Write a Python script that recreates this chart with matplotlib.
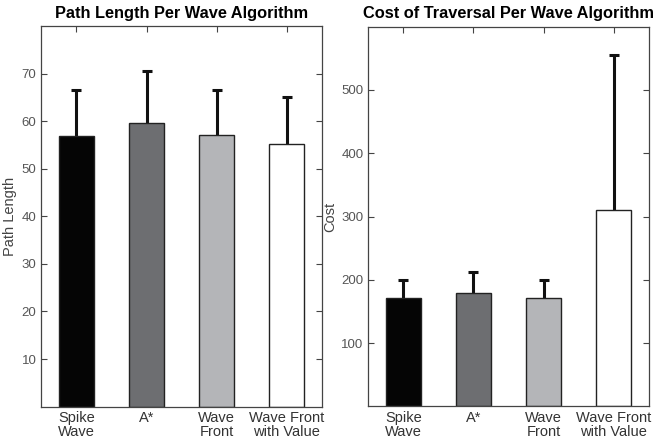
import numpy as np
import matplotlib
matplotlib.use("Agg")
import matplotlib.pyplot as plt

plt.rcParams['font.family'] = ['Liberation Sans', 'DejaVu Sans']

# data
labels = ['Spike\nWave', 'A*', 'Wave\nFront', 'Wave Front\nwith Value']
colors = ['#050505', '#6d6e71', '#b4b5b8', '#ffffff']
path_mean = [56.9, 59.6, 57.0, 55.2]
path_err = [9.6, 11.0, 9.5, 9.9]
cost_mean = [171, 179, 171, 311]
cost_err = [28, 33, 28, 245]

fig = plt.figure(figsize=(6.53, 4.41), dpi=100)
ax1 = fig.add_axes([0.0633, 0.078, 0.4298, 0.863])
ax2 = fig.add_axes([0.564, 0.0785, 0.4294, 0.861])

x = np.arange(1, 5)


def draw(ax, means, errs, title, ylabel, ylim, yticks):
    ax.bar(x, means, width=0.5, color=colors, edgecolor='#222222', linewidth=1.0, zorder=2)
    eb = ax.errorbar(x, means, yerr=[np.zeros(len(errs)), errs], fmt='none', ecolor='#111111',
                     elinewidth=2.2, capsize=3.5, capthick=2.2, zorder=1)
    # only the upper half of the error bar is shown
    eb[1][0].set_visible(False)
    ax.set_xlim(0.5, 4.5)
    ax.set_ylim(*ylim)
    ax.set_yticks(yticks)
    ax.set_xticks(x)
    ax.set_xticklabels(labels, fontsize=10.5, color='#333333', linespacing=1.0)
    ax.tick_params(axis='y', labelsize=9.5, labelcolor='#555555')
    ax.tick_params(direction='in', top=True, right=True, length=4, color='#444444', width=0.8)
    ax.tick_params(axis='x', pad=3)
    for s in ax.spines.values():
        s.set_color('#444444')
        s.set_linewidth(0.9)
    ax.set_title(title, fontsize=11.8, fontweight='bold', pad=6)
    ax.set_ylabel(ylabel, fontsize=10.5, color='#444444', labelpad=3)


draw(ax1, path_mean, path_err, 'Path Length Per Wave Algorithm', 'Path Length',
     (0, 80), [10, 20, 30, 40, 50, 60, 70])
draw(ax2, cost_mean, cost_err, 'Cost of Traversal Per Wave Algorithm', 'Cost',
     (0, 600), [100, 200, 300, 400, 500])

fig.savefig('out.png', dpi=100)
